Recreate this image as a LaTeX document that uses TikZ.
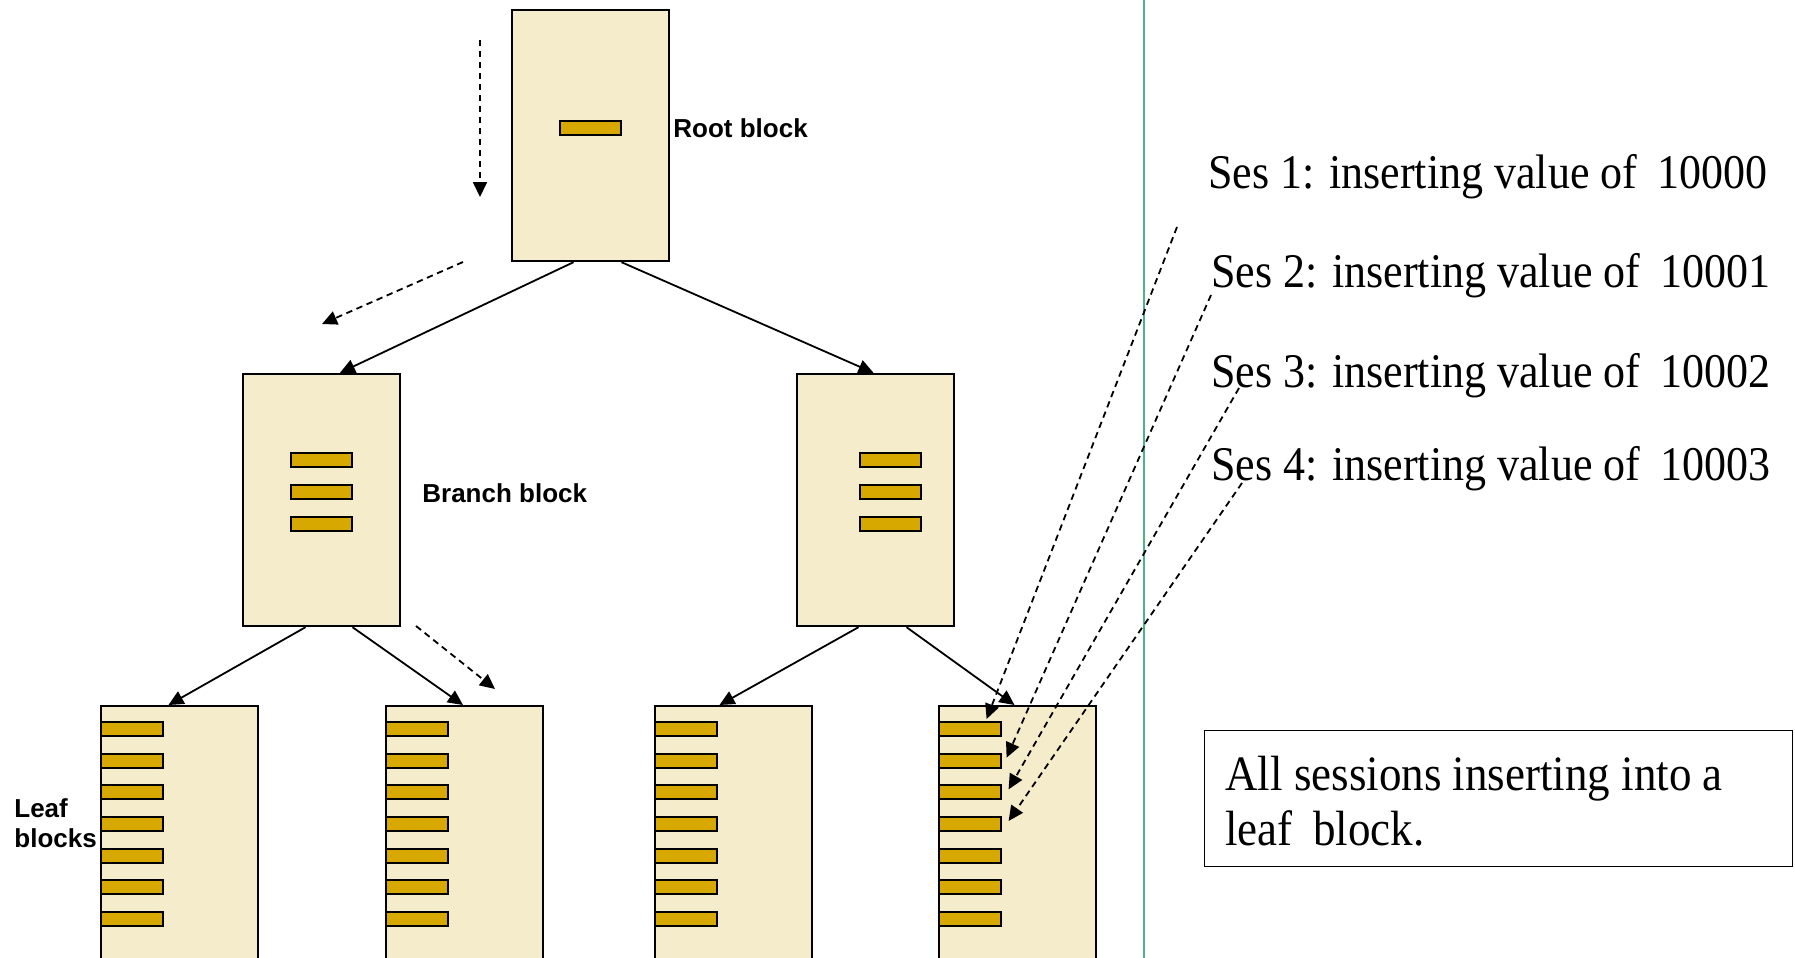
\documentclass[tikz,border=0pt]{standalone}
\usepackage{fontspec}
\setmainfont{Liberation Serif}
\newfontfamily\lsans{Liberation Sans}
\usetikzlibrary{arrows.meta,calc}
\definecolor{blkfill}{HTML}{F5ECCC}
\definecolor{barfill}{HTML}{D6A800}
\definecolor{sepline}{HTML}{4DB38A}
\tikzset{
  blockbox/.style={draw=black, fill=blkfill, line width=1.2pt, inner sep=0pt, minimum width=78.3pt},
  barbox/.style={draw=black, fill=barfill, line width=1pt, inner sep=0pt, minimum width=30.8pt, minimum height=7pt},
  tree/.style={line width=0.9pt, -{Triangle[length=7.5pt,width=7pt]}},
  hint/.style={tree, dash pattern=on 3.2pt off 2.3pt},
  lbl/.style={font=\lsans\bfseries\fontsize{13}{15}\selectfont, inner sep=0pt, anchor=base west},
  ses/.style={font=\fontsize{22}{26}\selectfont, inner sep=0pt, anchor=base west},
  notebox/.style={draw=black, line width=0.8pt, inner sep=0pt, minimum width=294pt, minimum height=68pt},
}
\newcommand{\tall}[1]{\scalebox{1}[1.1]{#1}}
\begin{document}
\begin{tikzpicture}[x=0.5pt,y=-0.5pt]
\clip (0,0) rectangle (1795,958);
\fill[white] (0,0) rectangle (1795,958);

% separator
\draw[sepline, line width=1.1pt] (1144,-5) -- (1144,965);

% root and branches
\node[blockbox, minimum height=125.5pt] (root) at (590.5,135.5) {};
\node[barbox] (rb) at (590.5,127.5) {};
\node[blockbox, minimum height=126pt] (bL) at (321.5,500) {};
\node[blockbox, minimum height=126pt] (bR) at (875.5,500) {};
\foreach \i/\y in {1/460,2/491.5,3/523.5} {
  \node[barbox] (bLb\i) at (321.5,\y) {};
  \node[barbox] (bRb\i) at (890.5,\y) {};
}

% leaves
\foreach \L/\x in {1/100,2/385,3/654,4/938} {
  \node[blockbox, minimum height=147.5pt, anchor=north west] (L\L) at (\x,705) {};
  \foreach \i in {1,...,7} {
    \node[barbox, anchor=west] (L\L b\i) at (\x,{729+31.67*(\i-1)}) {};
  }
}

% labels
\node[lbl] (rootlbl) at (673,137) {Root block};
\node[lbl] (branchlbl) at (422,502) {Branch block};
\node[lbl] (leaflblA) at (14,817) {Leaf};
\node[lbl] (leaflblB) at (14,847) {blocks};

% tree connectors
\draw[tree] ($(root.south)+(-17,0)$) -- ($(bL.north)+(18.5,0)$);
\draw[tree] ($(root.south)+(31,0)$) -- ($(bR.north)+(-2,0)$);
\draw[tree] ($(bL.south)+(-16,0)$) -- ($(L1.north)+(-11,0)$);
\draw[tree] ($(bL.south)+(31,0)$) -- ($(L2.north)+(-1.5,0)$);
\draw[tree] ($(bR.south)+(-17,0)$) -- ($(L3.north)+(-14,0)$);
\draw[tree] ($(bR.south)+(31,0)$) -- ($(L4.north)+(-3,0)$);

% search path hints
\coordinate (h1a) at (480,40);   \coordinate (h1b) at (480,197);
\coordinate (h2a) at (463,262);  \coordinate (h2b) at (322,324);
\coordinate (h3a) at (416,626);  \coordinate (h3b) at (495,689);
\draw[hint] (h1a) -- (h1b);
\draw[hint] (h2a) -- (h2b);
\draw[hint] (h3a) -- (h3b);

% sessions
\node[ses] (ses1) at (1208,188) {\tall{Ses 1: inserting value of\hspace{0.45em}10000}};
\node[ses] (ses2) at (1211,287) {\tall{Ses 2: inserting value of\hspace{0.45em}10001}};
\node[ses] (ses3) at (1211,387) {\tall{Ses 3: inserting value of\hspace{0.45em}10002}};
\node[ses] (ses4) at (1211,480) {\tall{Ses 4: inserting value of\hspace{0.45em}10003}};

\draw[hint] ($(ses1.base west)+(-31,39)$) -- ($(L4b1.north east)+(-15,-2)$);
\draw[hint] ($(ses2.base west)+(0,8)$) -- ($(L4b2.east)+(5,-3)$);
\draw[hint] ($(ses3.base west)+(28,1)$) -- ($(L4b3.east)+(7,-3)$);
\draw[hint] ($(ses4.base west)+(31,3)$) -- ($(L4b4.east)+(7,-3)$);

% note
\node[notebox] (note) at (1498.5,798.5) {};
\node[ses, font=\fontsize{22.5}{26}\selectfont] (noteA) at (1225,790) {\tall{All sessions inserting into a}};
\node[ses, font=\fontsize{22.5}{26}\selectfont] (noteB) at (1225,845) {\tall{leaf\hspace{0.45em}block.}};
\end{tikzpicture}
\end{document}
